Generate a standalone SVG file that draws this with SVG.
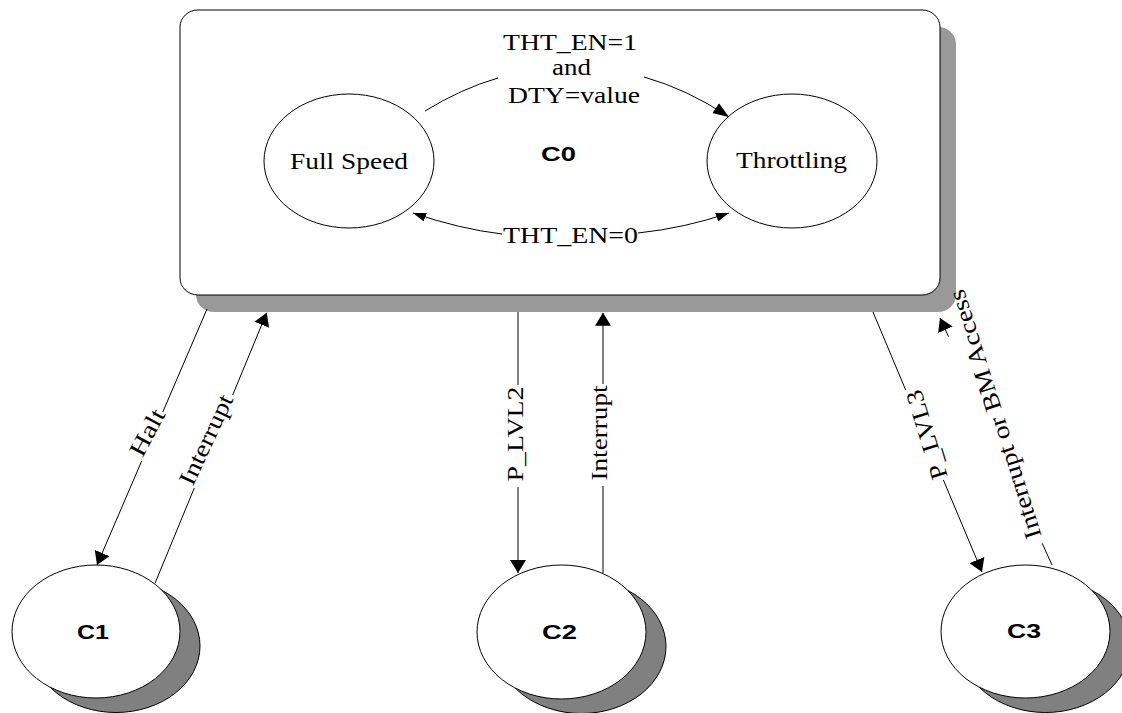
<svg xmlns="http://www.w3.org/2000/svg" width="1122" height="713" viewBox="0 0 1122 713">
<style>
.serif{font-family:"Liberation Serif","Times New Roman",serif;font-size:24px;fill:#000}
.bold{font-family:"Liberation Sans",Arial,sans-serif;font-size:20px;font-weight:bold;fill:#000}
.ln{fill:none;stroke:#000;stroke-width:1}
.st{fill:#fff;stroke:#000;stroke-width:1}
.sh{fill:#808080;stroke:#000;stroke-width:1}
</style>
<defs>
<marker id="ah" viewBox="0 0 13 16" refX="13" refY="8" markerWidth="13" markerHeight="16" markerUnits="userSpaceOnUse" orient="auto"><path d="M0,0 L13,8 L0,16 z" fill="#000"/></marker>
<marker id="am" viewBox="0 0 16 12" refX="16" refY="6" markerWidth="16" markerHeight="12" markerUnits="userSpaceOnUse" orient="auto"><path d="M0,0 L16,6 L0,12 z" fill="#000"/></marker>
<marker id="as" viewBox="0 0 13 9" refX="13" refY="4.5" markerWidth="13" markerHeight="9" markerUnits="userSpaceOnUse" orient="auto"><path d="M0,0 L13,4.5 L0,9 z" fill="#000"/></marker>
</defs>

<g id="C0">
<rect x="196" y="27" width="760" height="285" rx="18" ry="17" fill="#999"/>
<rect x="180" y="10" width="760" height="285" rx="18" ry="17" class="st"/>
<text class="bold" x="558.5" y="161" text-anchor="middle" textLength="35" lengthAdjust="spacingAndGlyphs">C0</text>
</g>

<g id="FullSpeed">
<ellipse cx="349" cy="161" rx="85" ry="67" class="st"/>
<text class="serif" x="349" y="169" text-anchor="middle" textLength="118" lengthAdjust="spacingAndGlyphs">Full Speed</text>
</g>

<g id="Throttling">
<ellipse cx="792" cy="161" rx="85" ry="67" class="st"/>
<text class="serif" x="791.5" y="168" text-anchor="middle" textLength="111" lengthAdjust="spacingAndGlyphs">Throttling</text>
</g>

<g id="C1">
<ellipse cx="116" cy="646" rx="84" ry="66.5" class="sh"/>
<ellipse cx="96" cy="631.5" rx="84" ry="66.5" class="st"/>
<text class="bold" x="93" y="639" text-anchor="middle" textLength="32" lengthAdjust="spacingAndGlyphs">C1</text>
</g>

<g id="C2">
<ellipse cx="581.5" cy="646.5" rx="84.5" ry="67" class="sh"/>
<ellipse cx="561.5" cy="632" rx="84.5" ry="67" class="st"/>
<text class="bold" x="559.5" y="639" text-anchor="middle" textLength="35" lengthAdjust="spacingAndGlyphs">C2</text>
</g>

<g id="C3">
<ellipse cx="1045.5" cy="646" rx="84.5" ry="66.5" class="sh"/>
<ellipse cx="1025.5" cy="631.5" rx="84.5" ry="66.5" class="st"/>
<text class="bold" x="1024" y="638" text-anchor="middle" textLength="34" lengthAdjust="spacingAndGlyphs">C3</text>
</g>

<g id="connectors">
<!-- Full Speed -> Throttling -->
<path class="ln" d="M425,111 Q461.4,88.6 498,78"/>
<path class="ln" d="M644,77 Q687,89 729,117" marker-end="url(#am)"/>
<text class="serif" x="570" y="50" text-anchor="middle" textLength="134" lengthAdjust="spacingAndGlyphs">THT_EN=1</text>
<text class="serif" x="571.5" y="75" text-anchor="middle" textLength="39" lengthAdjust="spacingAndGlyphs">and</text>
<text class="serif" x="574" y="103" text-anchor="middle" textLength="132" lengthAdjust="spacingAndGlyphs">DTY=value</text>
<!-- THT_EN=0 -->
<path class="ln" d="M502,234 Q460,229 413,213" marker-end="url(#as)"/>
<path class="ln" d="M638,233 Q685,228 729,213" marker-end="url(#as)"/>
<text class="serif" x="570.5" y="243" text-anchor="middle" textLength="135" lengthAdjust="spacingAndGlyphs">THT_EN=0</text>

<!-- Halt -->
<path class="ln" d="M207,309 L162.8,412"/>
<path class="ln" d="M141.7,461 L97,565" marker-end="url(#ah)"/>
<text class="serif" transform="translate(148,433) rotate(-62)" x="0" y="7" text-anchor="middle" textLength="50" lengthAdjust="spacingAndGlyphs">Halt</text>
<!-- Interrupt C1 -->
<path class="ln" d="M155,583.3 L194.3,488"/>
<path class="ln" d="M232.7,395 L266.7,312.7" marker-end="url(#ah)"/>
<text class="serif" transform="translate(207,440) rotate(-65)" x="0" y="7" text-anchor="middle" textLength="97" lengthAdjust="spacingAndGlyphs">Interrupt</text>
<!-- P_LVL2 -->
<path class="ln" d="M518,312 L518,385"/>
<path class="ln" d="M518,487 L518,573" marker-end="url(#ah)"/>
<text class="serif" transform="translate(516,434) rotate(-90)" x="0" y="7" text-anchor="middle" textLength="95" lengthAdjust="spacingAndGlyphs">P_LVL2</text>
<!-- Interrupt C2 -->
<path class="ln" d="M603,573 L603,486"/>
<path class="ln" d="M603,384 L603,312.7" marker-end="url(#ah)"/>
<text class="serif" transform="translate(600,433) rotate(-90)" x="0" y="7" text-anchor="middle" textLength="95" lengthAdjust="spacingAndGlyphs">Interrupt</text>
<!-- P_LVL3 -->
<path class="ln" d="M873,312 L905.7,390"/>
<path class="ln" d="M943.4,480 L982,572" marker-end="url(#ah)"/>
<text class="serif" transform="translate(927.5,434.5) rotate(-107)" x="0" y="7" text-anchor="middle" textLength="92" lengthAdjust="spacingAndGlyphs">P_LVL3</text>
<!-- Interrupt or BM Access -->
<path class="ln" d="M1052,565 L1042.2,543.3"/>
<path class="ln" d="M948.5,336.7 L940,318" marker-end="url(#ah)"/>
<text class="serif" transform="translate(996,414) rotate(-107.5)" x="0" y="7" text-anchor="middle" textLength="260" lengthAdjust="spacingAndGlyphs">Interrupt or BM Access</text>
</g>
</svg>
